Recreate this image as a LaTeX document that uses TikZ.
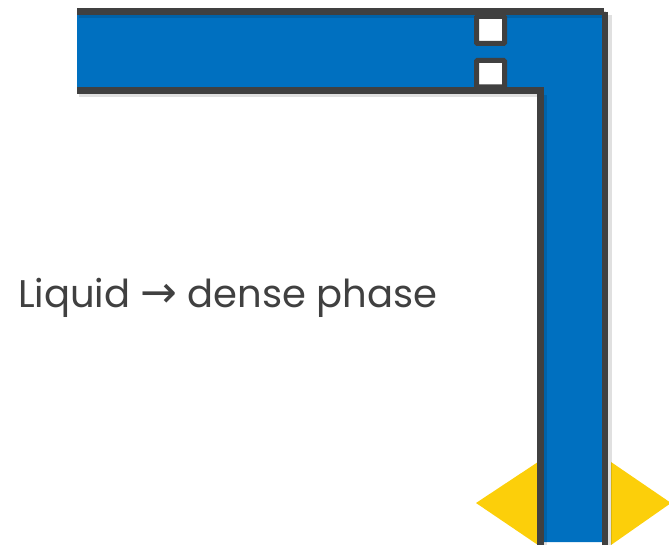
\documentclass[tikz,border=0pt]{standalone}
\usepackage{fontspec}
\setmainfont{Poppins}
\newfontfamily\arrowfont{DejaVu Sans}
\definecolor{pipeblue}{HTML}{0070C0}
\definecolor{wallgray}{HTML}{404040}
\definecolor{valveyellow}{HTML}{FCCF0A}
\tikzset{
  wall/.style={draw=wallgray, line width=7pt, line cap=butt},
  shadowwall/.style={draw=black, opacity=0.12, line width=7pt},
  portbox/.style={draw=wallgray, fill=white, line width=5pt, rounded corners=1pt},
  valve/.style={fill=valveyellow, draw=none},
  label/.style={text=wallgray, font=\fontsize{38.5}{46}\selectfont, inner sep=0pt, anchor=base west}
}
\begin{document}
\begin{tikzpicture}[x=1pt,y=-1pt]
\useasboundingbox (0,0) rectangle (669,545);
% valves (yellow triangles)
\fill[valve] (476,503) -- (538,462) -- (538,545) -- cycle;
\fill[valve] (611,462) -- (671,503) -- (611,545) -- cycle;
% blue fluid
\fill[pipeblue] (77,12) -- (603,12) -- (603,542) -- (541,542) -- (541,91) -- (77,91) -- cycle;
% shadows
\draw[shadowwall] (79,14.5) -- (606,14.5);
\draw[shadowwall] (79,94) -- (543,94);
\draw[shadowwall] (608,15) -- (608,545);
\draw[shadowwall] (543,95) -- (543,545);
% walls
\draw[wall] (77,11.8) -- (604,11.8);
\draw[wall, line width=6pt] (605,12) -- (605,545);
\draw[wall] (77,91) -- (541,91);
\draw[wall] (540.5,87.5) -- (540.5,545);
% ports
\draw[portbox] (476.5,16.5) rectangle (504.5,43.5);
\draw[portbox] (476.5,60.5) rectangle (504.5,87);
% label
\node[label] (txt) at (18,307) {Liquid {\arrowfont\fontsize{44}{46}\selectfont →} dense phase};
\end{tikzpicture}
\end{document}
